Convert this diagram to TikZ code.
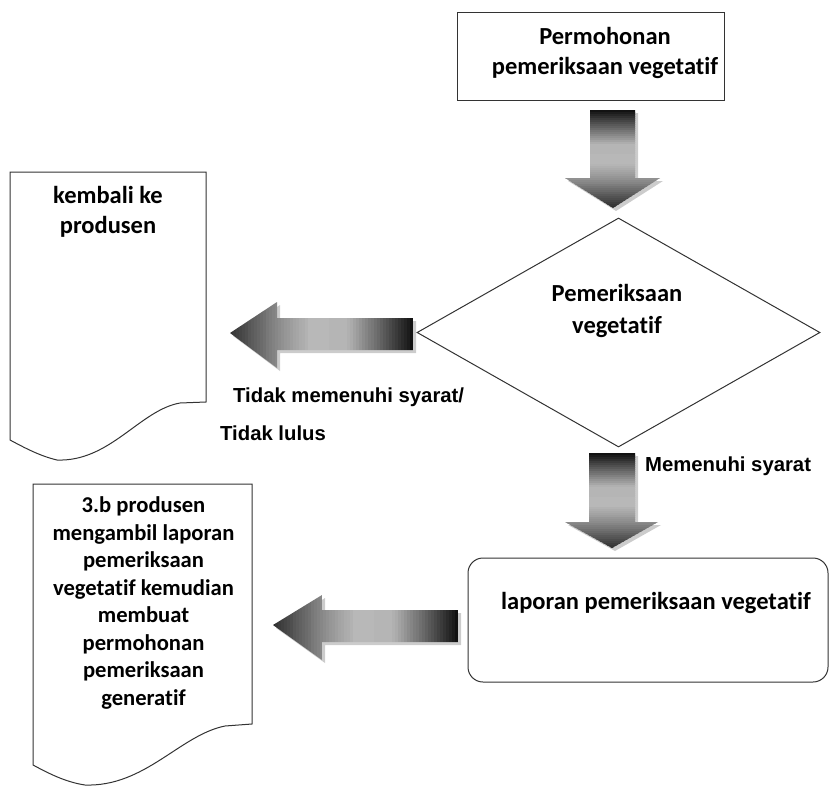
\documentclass[tikz,border=0pt]{standalone}
\usepackage{fontspec}
\setmainfont[Ligatures=NoCommon]{Carlito}
\newfontfamily\labelfont{Liberation Sans}
\usetikzlibrary{shapes.geometric}

% darkness (percent black) along a block arrow, tail (0) to tip (1)
\newcommand\arrowdark[1]{%
  \pgfmathtruncatemacro\shadeval{(#1<0.15) ? 93-28*#1/0.15 :
    ((#1<0.35) ? 65-35*(#1-0.15)/0.2 :
    ((#1<0.55) ? 30-2*(#1-0.35)/0.2 :
    ((#1<0.72) ? 28+17*(#1-0.55)/0.17 : 45+37*(#1-0.72)/0.28)))}}

\begin{document}
\begin{tikzpicture}[x=1pt,y=-1pt,
  outline/.style={draw=black!80, line width=1pt},
  boxtext/.style={font=\bfseries\fontsize{24.5}{29.5}\selectfont, align=center, inner sep=0pt},
  doctext/.style={font=\bfseries\fontsize{22.6}{27.5}\selectfont, align=center, inner sep=0pt},
  cond/.style={font=\labelfont\bfseries\fontsize{20.3}{24}\selectfont, inner sep=0pt, anchor=west},
  arrowshadow/.style={fill=black!20}
]
\useasboundingbox (0,0) rectangle (830,787);

% request box
\node[outline, minimum width=267pt, minimum height=88pt, inner sep=0pt] (req) at (590.5,56) {};
\node[boxtext] (reqt) at (605,53) {Permohonan\\pemeriksaan vegetatif};

% decision diamond
\node[outline, diamond, minimum width=403pt, minimum height=229pt, inner sep=0pt] (chk) at (618.5,332.5) {};
\node[boxtext, font=\bfseries\fontsize{24.5}{32}\selectfont] (chkt) at (617,311) {Pemeriksaan\\vegetatif};

% report box
\node[outline, rounded corners=15pt, minimum width=360pt, minimum height=124pt, inner sep=0pt] (rep) at (648,620) {};
\node[boxtext] (rept) at (656,603) {laporan pemeriksaan vegetatif};

% document: back to producer
\draw[outline] (10,172) -- (206,172) -- (206,402) -- (180,403)
  .. controls (140,410) and (110,462) .. (57,460)
  .. controls (40,456) and (25,448) .. (10,440) -- cycle;
\node[boxtext] (backt) at (108,212) {kembali ke\\produsen};

% document: next step
\draw[outline] (33,484) -- (252,484) -- (252,724) -- (225,726)
  .. controls (180,735) and (145,787) .. (85,785)
  .. controls (65,782) and (48,773) .. (33,765) -- cycle;
\node[doctext] (nextt) at (143.5,603) {3.b produsen\\mengambil laporan\\pemeriksaan\\vegetatif kemudian\\membuat\\permohonan\\pemeriksaan\\generatif};

% block arrow from request to check
\fill[arrowshadow] (593,113) -- (638,113) -- (638,181) -- (663,181) -- (616,211)
  -- (568,181) -- (593,181) -- cycle;
\begin{scope}
  \clip (590,110) -- (635,110) -- (635,178) -- (660,178) -- (613,208)
    -- (565,178) -- (590,178) -- cycle;
  \foreach \i in {0,...,48} {
    \arrowdark{\i/48}
    \fill[black!\shadeval] (560,110+2*\i) rectangle (665,112.6+2*\i);
  }
\end{scope}

% block arrow from check to report
\fill[arrowshadow] (592,456) -- (638,456) -- (638,525) -- (661,525) -- (615,551)
  -- (568,525) -- (592,525) -- cycle;
\begin{scope}
  \clip (589,453) -- (635,453) -- (635,522) -- (658,522) -- (612,548)
    -- (565,522) -- (589,522) -- cycle;
  \foreach \i in {0,...,47} {
    \arrowdark{\i/47}
    \fill[black!\shadeval] (560,453+2*\i) rectangle (665,455.6+2*\i);
  }
\end{scope}

% block arrow from check to the producer
\fill[arrowshadow] (416,321) -- (416,353) -- (280,353) -- (280,371) -- (233,336)
  -- (280,305) -- (280,321) -- cycle;
\begin{scope}
  \clip (413,318) -- (413,350) -- (277,350) -- (277,368) -- (230,333)
    -- (277,302) -- (277,318) -- cycle;
  \foreach \i in {0,...,61} {
    \arrowdark{\i/61}
    \fill[black!\shadeval] (413-3*\i,298) rectangle (409.6-3*\i,372);
  }
\end{scope}

% block arrow from report to the next step
\fill[arrowshadow] (461,613) -- (461,645) -- (325,645) -- (325,663) -- (276,628)
  -- (325,598) -- (325,613) -- cycle;
\begin{scope}
  \clip (458,610) -- (458,642) -- (322,642) -- (322,660) -- (273,625)
    -- (322,595) -- (322,610) -- cycle;
  \foreach \i in {0,...,61} {
    \arrowdark{\i/61}
    \fill[black!\shadeval] (458-3*\i,590) rectangle (454.6-3*\i,665);
  }
\end{scope}

% condition labels
\node[cond] (fail1) at (233,397) {Tidak memenuhi syarat/};
\node[cond] (fail2) at (220,433) {Tidak lulus};
\node[cond] (pass) at (645,466) {Memenuhi syarat};
\end{tikzpicture}
\end{document}
